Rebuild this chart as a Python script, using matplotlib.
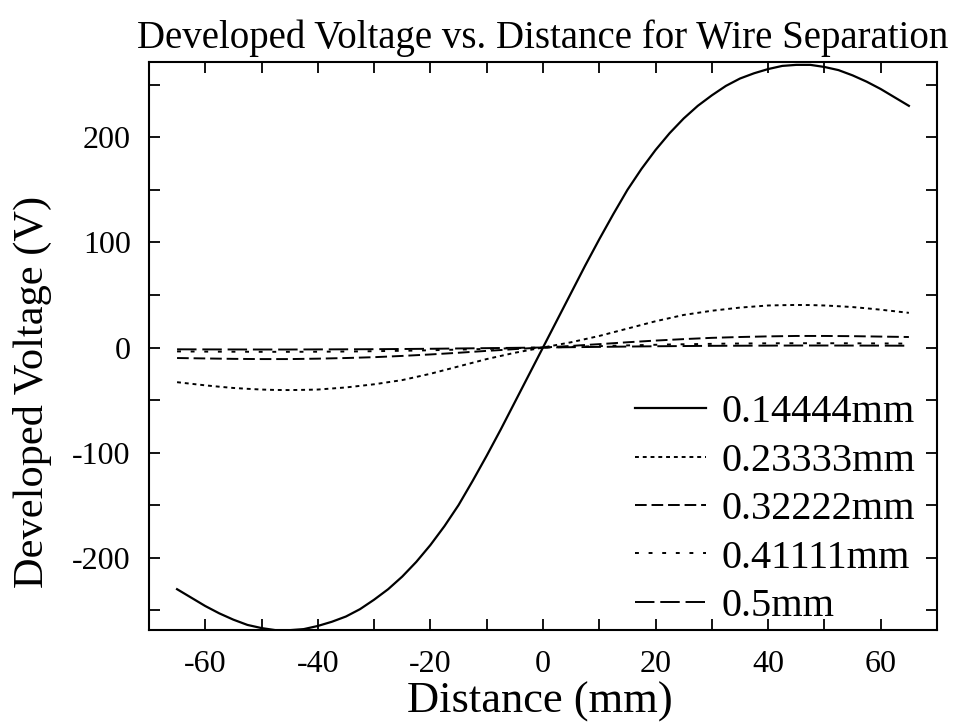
import matplotlib
matplotlib.use("Agg")
import matplotlib.pyplot as plt
from matplotlib.ticker import MultipleLocator

# positive half of the distance axis (curves are antisymmetric about 0)
distance_pos = [0, 2.5, 5, 7.5, 10, 12.5, 15, 17.5, 20, 22.5, 25, 27.5, 30, 32.5,
                35, 37.5, 40, 42.5, 45, 47.5, 50, 52.5, 55, 57.5, 60, 62.5, 65]
v_014444 = [0, 26, 52, 78, 103, 127, 150, 170, 188, 204, 218, 230, 240, 249,
            256, 261, 265, 268, 269, 269, 267, 264, 259, 253, 246, 238, 230]
v_023333 = [0, 2.5, 5, 8, 11, 14.5, 18, 21.5, 25, 28, 31, 33, 35, 36.5,
            38, 39, 40, 40.3, 40.5, 40.4, 40, 39.3, 38.5, 37.3, 36, 34.5, 33]
v_032222 = [0, 0.7, 1.5, 2.4, 3.2, 4.1, 5, 5.8, 6.6, 7.3, 8, 8.6, 9.2, 9.6,
            10, 10.3, 10.6, 10.8, 11, 11, 11, 10.9, 10.8, 10.6, 10.4, 10.2, 10]
v_041111 = [0, 0.3, 0.6, 1.0, 1.3, 1.7, 2, 2.3, 2.6, 2.9, 3.1, 3.3, 3.5, 3.7,
            3.8, 3.9, 4, 4.05, 4.1, 4.1, 4.1, 4.05, 4, 3.95, 3.9, 3.8, 3.7]
v_05 = [0, 0.15, 0.3, 0.45, 0.6, 0.75, 0.9, 1.05, 1.2, 1.3, 1.4, 1.5, 1.6, 1.65,
        1.7, 1.75, 1.8, 1.85, 1.9, 1.9, 1.9, 1.88, 1.85, 1.82, 1.8, 1.75, 1.7]
labels = ["0.14444mm", "0.23333mm", "0.32222mm", "0.41111mm", "0.5mm"]


def full(xs, ys):
    # mirror the positive half to get the antisymmetric full curve
    x = [-v for v in xs[::-1]] + xs[1:]
    y = [-v for v in ys[::-1]] + ys[1:]
    return x, y


plt.rcParams['font.family'] = ['Liberation Serif', 'DejaVu Serif']
plt.rcParams['axes.unicode_minus'] = False

fig = plt.figure(figsize=(9.67, 7.26), dpi=100)
ax = fig.add_axes([0.154, 0.132, 0.815, 0.783])

styles = ['-', (0, (2, 2)), (0, (6, 2.5)), (0, (2, 5)), (0, (10, 3))]
widths = [1.6, 1.4, 1.4, 1.4, 1.4]
for ys, lab, ls, lw in zip([v_014444, v_023333, v_032222, v_041111, v_05], labels, styles, widths):
    x, y = full(distance_pos, ys)
    ax.plot(x, y, color='black', linestyle=ls, linewidth=lw, label=lab)

ax.set_xlim(-70, 70)
ax.set_ylim(-269, 272)
ax.xaxis.set_major_locator(MultipleLocator(20))
ax.xaxis.set_minor_locator(MultipleLocator(10))
ax.yaxis.set_major_locator(MultipleLocator(100))
ax.yaxis.set_minor_locator(MultipleLocator(50))
ax.tick_params(which='both', direction='in', top=True, right=True, length=8, width=1.3, labelsize=23)
ax.tick_params(axis='x', pad=14)
ax.tick_params(axis='y', pad=13)
for s in ax.spines.values():
    s.set_linewidth(1.5)

ax.set_title("Developed Voltage vs. Distance for Wire Separation", fontsize=28, pad=10)
ax.set_xlabel("Distance (mm)", fontsize=32)
ax.set_ylabel("Developed Voltage (V)", fontsize=30.5, va='center')
ax.xaxis.set_label_coords(0.496, -0.09)
ax.yaxis.set_label_coords(-0.148, 0.419)

ax.legend(loc='lower right', bbox_to_anchor=(0.972, 0.009), frameon=False, fontsize=29,
          handlelength=1.75, labelspacing=0.28, handletextpad=0.375, borderpad=0,
          borderaxespad=0)

fig.savefig("out.png", dpi=100)
